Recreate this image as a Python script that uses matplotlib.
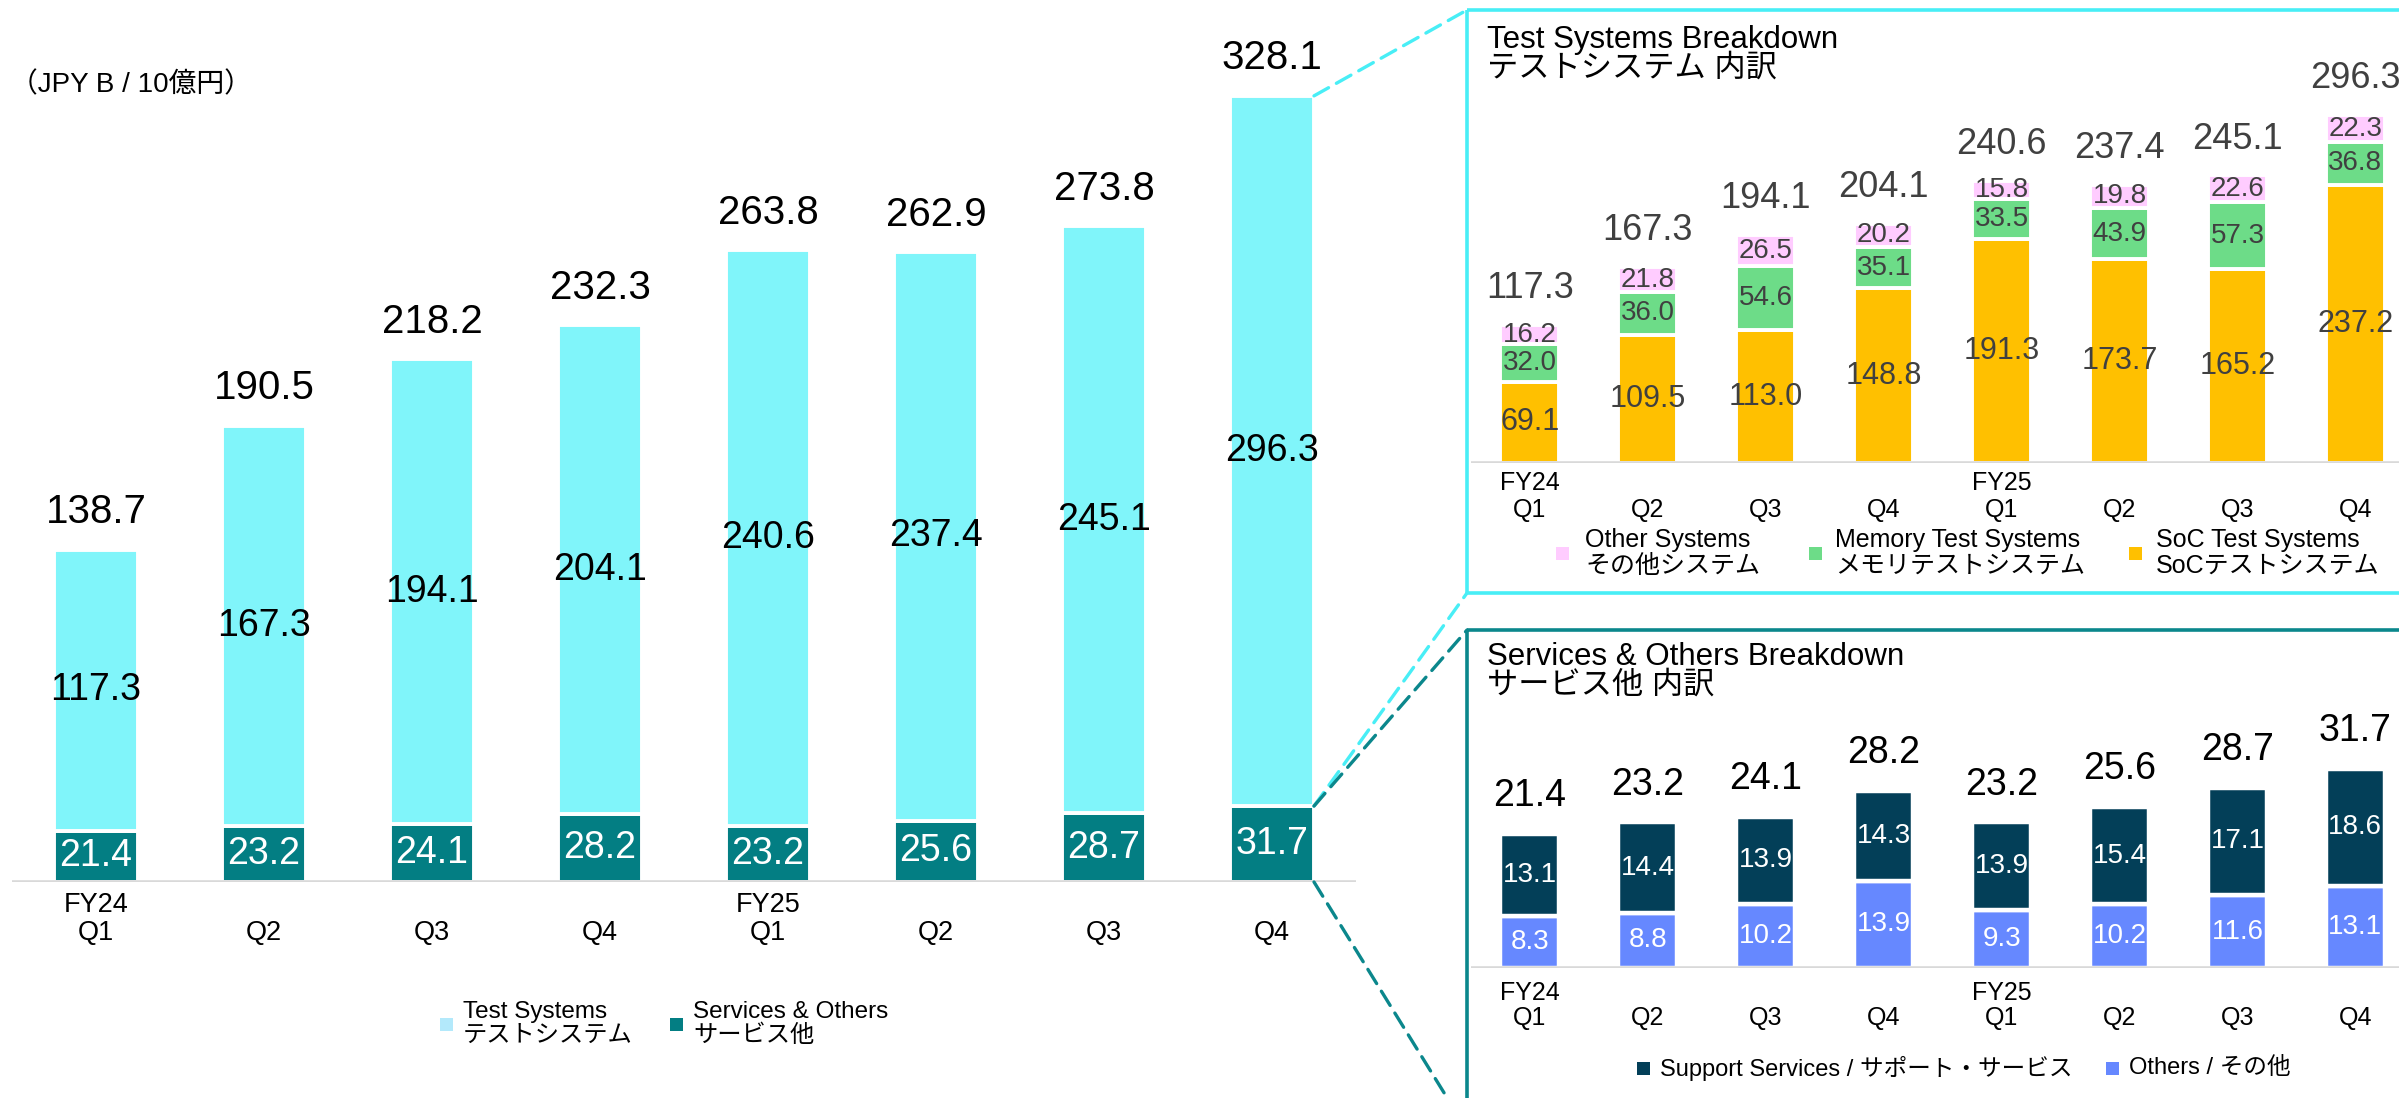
"""
Quarterly sales by segment with breakdown panels (FY24-FY25)
"""

# Libs
import matplotlib
matplotlib.use("Agg")
import matplotlib.pyplot as plt
import matplotlib.patches as mpatches
import matplotlib.transforms as mtransforms

# ------------------ Data
fiscal_years = ["FY24", "", "", "", "FY25", "", "", ""]
quarters = ["Q1", "Q2", "Q3", "Q4", "Q1", "Q2", "Q3", "Q4"]

totals = [138.7, 190.5, 218.2, 232.3, 263.8, 262.9, 273.8, 328.1]
test_systems = [117.3, 167.3, 194.1, 204.1, 240.6, 237.4, 245.1, 296.3]
services_others = [21.4, 23.2, 24.1, 28.2, 23.2, 25.6, 28.7, 31.7]

soc_test = [69.1, 109.5, 113.0, 148.8, 191.3, 173.7, 165.2, 237.2]
memory_test = [32.0, 36.0, 54.6, 35.1, 33.5, 43.9, 57.3, 36.8]
other_systems = [16.2, 21.8, 26.5, 20.2, 15.8, 19.8, 22.6, 22.3]

support_services = [13.1, 14.4, 13.9, 14.3, 13.9, 15.4, 17.1, 18.6]
others = [8.3, 8.8, 10.2, 13.9, 9.3, 10.2, 11.6, 13.1]

# ------------------ Style
W, H = 2399, 1098
plt.rcParams['font.family'] = ['Liberation Sans', 'Noto Sans CJK JP']

CYAN = "#80f5fa"
CYAN_LEGEND = "#b3e9fb"
CYAN_BORDER = "#48eef6"
TEAL = "#037e83"
TEAL_BORDER = "#0b878c"
PINK = "#ffccff"
GREEN = "#6ddc88"
YELLOW = "#ffc000"
NAVY = "#033f58"
BLUE = "#6688ff"
GREY_TXT = "#404040"
AXIS_GREY = "#d9d9d9"

fig = plt.figure(figsize=(W / 100, H / 100), dpi=100)
# pixel coordinates with origin at the top-left corner
px = mtransforms.Affine2D().scale(1 / W, -1 / H).translate(0, 1) + fig.transFigure


def pixel_axes(left, right, base, top, x0, step, yscale):
    ax = fig.add_axes([left / W, 1 - base / H, (right - left) / W, (base - top) / H])
    ax.set_xlim((left - x0) / step, (right - x0) / step)
    ax.set_ylim(0, (base - top) / yscale)
    ax.axis("off")
    ax.axhline(0, color=AXIS_GREY, lw=2.6, zorder=3)
    return ax


def category_labels(ax, row1, row2, size):
    for i in range(len(quarters)):
        ax.annotate(fiscal_years[i], (i, 0), xytext=(0, -row1), textcoords="offset points",
                    ha="center", va="baseline", fontsize=size, annotation_clip=False)
        ax.annotate(quarters[i], (i, 0), xytext=(0, -row2), textcoords="offset points",
                    ha="center", va="baseline", fontsize=size, annotation_clip=False)


def total_labels(ax, values, offset, size, color="black"):
    for i, v in enumerate(values):
        ax.annotate(f"{v:.1f}", (i, v), xytext=(0, offset), textcoords="offset points",
                    ha="center", va="baseline", fontsize=size, color=color, annotation_clip=False)


def legend_item(x, y, color, text, size, sq=13, pad=10):
    fig.add_artist(mpatches.Rectangle((x, y - sq / 2), sq, sq, transform=px, color=color, lw=0))
    fig.text(x + sq + pad, y, text, transform=px, ha="left", va="center", fontsize=size,
             linespacing=1.12)


xs = range(len(quarters))

# ------------------ Main chart
ax_main = pixel_axes(12, 1356, 882, 30, 96, 168, 2.396)
bw_main = 84 / 168
ax_main.bar(xs, services_others, width=bw_main, color=TEAL, edgecolor="white", lw=2.8, zorder=2)
ax_main.bar(xs, test_systems, bottom=services_others, width=bw_main, color=CYAN,
            edgecolor="white", lw=2.8, zorder=2)
for i in xs:
    ax_main.text(i, services_others[i] / 2, f"{services_others[i]:.1f}", ha="center", va="center",
                 color="white", fontsize=27, zorder=4)
    ax_main.text(i, services_others[i] + test_systems[i] / 2, f"{test_systems[i]:.1f}",
                 ha="center", va="center", color="black", fontsize=27, zorder=4)
total_labels(ax_main, totals, 19, 29)
category_labels(ax_main, 21.6, 41.8, 19.5)

fig.text(10, 92, "（JPY B / 10億円）", transform=px, ha="left", va="baseline", fontsize=20)

legend_item(440, 1024, CYAN_LEGEND, "Test Systems\nテストシステム", 17.5)
legend_item(670, 1024, TEAL, "Services & Others\nサービス他", 17.5)

# ------------------ Test systems breakdown
ax_top = pixel_axes(1471, 2420, 463, 80, 1530, 117.9, 1.173)
bw_panel = 59 / 117.9
mem_bottom = soc_test
oth_bottom = [s + m for s, m in zip(soc_test, memory_test)]
ax_top.bar(xs, soc_test, width=bw_panel, color=YELLOW, edgecolor="white", lw=2.8, zorder=2)
ax_top.bar(xs, memory_test, bottom=mem_bottom, width=bw_panel, color=GREEN,
           edgecolor="white", lw=2.8, zorder=2)
ax_top.bar(xs, other_systems, bottom=oth_bottom, width=bw_panel, color=PINK,
           edgecolor="white", lw=2.8, zorder=2)
for i in xs:
    ax_top.text(i, soc_test[i] / 2, f"{soc_test[i]:.1f}", ha="center", va="center",
                color=GREY_TXT, fontsize=22, zorder=4)
    ax_top.text(i, mem_bottom[i] + memory_test[i] / 2, f"{memory_test[i]:.1f}", ha="center",
                va="center", color=GREY_TXT, fontsize=20, zorder=4)
    ax_top.text(i, oth_bottom[i] + other_systems[i] / 2, f"{other_systems[i]:.1f}", ha="center",
                va="center", color=GREY_TXT, fontsize=20, zorder=4)
total_labels(ax_top, test_systems, 19.4, 26, GREY_TXT)
category_labels(ax_top, 19.4, 38.9, 18)

fig.add_artist(mpatches.Rectangle((1467, 10), 960, 583, transform=px, fill=False,
                                  edgecolor=CYAN_BORDER, lw=2.6))
fig.text(1487, 48, "Test Systems Breakdown", transform=px, va="baseline", fontsize=22.5)
fig.text(1487, 77, "テストシステム 内訳", transform=px, va="baseline", fontsize=22.5)

legend_item(1556, 553, PINK, "Other Systems\nその他システム", 18, pad=16)
legend_item(1809, 553, GREEN, "Memory Test Systems\nメモリテストシステム", 18, pad=13)
legend_item(2129, 553, YELLOW, "SoC Test Systems\nSoCテストシステム", 18, pad=14)

# ------------------ Services & others breakdown
ax_bot = pixel_axes(1471, 2420, 968, 700, 1530, 117.9, 6.28)
ax_bot.bar(xs, others, width=bw_panel, color=BLUE, edgecolor="white", lw=3.2, zorder=2)
ax_bot.bar(xs, support_services, bottom=others, width=bw_panel, color=NAVY,
           edgecolor="white", lw=3.2, zorder=2)
for i in xs:
    ax_bot.text(i, others[i] / 2, f"{others[i]:.1f}", ha="center", va="center",
                color="white", fontsize=20, zorder=4)
    ax_bot.text(i, others[i] + support_services[i] / 2, f"{support_services[i]:.1f}",
                ha="center", va="center", color="white", fontsize=20, zorder=4)
total_labels(ax_bot, services_others, 20, 27)
category_labels(ax_bot, 23, 41, 18)

fig.add_artist(mpatches.Rectangle((1467, 630), 960, 500, transform=px, fill=False,
                                  edgecolor=TEAL_BORDER, lw=2.6))
fig.text(1487, 665, "Services & Others Breakdown", transform=px, va="baseline", fontsize=22.5)
fig.text(1487, 694, "サービス他 内訳", transform=px, va="baseline", fontsize=22.5)

legend_item(1637, 1068, NAVY, "Support Services / サポート・サービス", 17)
legend_item(2106, 1068, BLUE, "Others / その他", 17)

# ------------------ Zoom connectors
edge_x = len(quarters) - 1 + bw_main / 2
connectors = [
    ((edge_x, totals[-1]), (1467, 10), CYAN_BORDER),
    ((edge_x, services_others[-1]), (1467, 593), CYAN_BORDER),
    ((edge_x, services_others[-1]), (1467, 630), TEAL_BORDER),
    ((edge_x, 0), (1467, 1130), TEAL_BORDER),
]
for xy_a, xy_b, color in connectors:
    con = mpatches.ConnectionPatch(xyA=xy_a, coordsA=ax_main.transData, xyB=xy_b, coordsB=px,
                                   color=color, lw=2.4, linestyle=(0, (5, 2.7)),
                                   arrowstyle="-", shrinkA=0, shrinkB=0)
    fig.add_artist(con)

fig.savefig("out.png", dpi=100)
